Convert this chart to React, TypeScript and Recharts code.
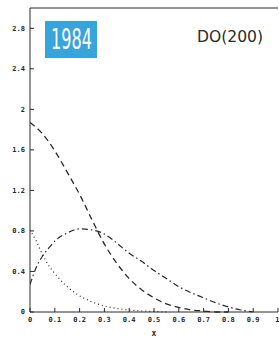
import { LineChart, Line, XAxis, YAxis } from "recharts";

// values
const dashX = [0, 0.05, 0.1, 0.15, 0.2, 0.25, 0.3, 0.35, 0.4, 0.45, 0.5, 0.55, 0.6, 0.65, 0.7, 0.75, 0.8];
const dashY = [1.87, 1.76, 1.59, 1.38, 1.16, 0.91, 0.67, 0.48, 0.33, 0.22, 0.14, 0.08, 0.045, 0.02, 0.01, 0.0, 0.0];

const dashDotX = [0, 0.025, 0.05, 0.075, 0.1, 0.15, 0.2, 0.25, 0.3, 0.35, 0.4, 0.45, 0.5, 0.55, 0.6, 0.65, 0.7, 0.75, 0.8, 0.85, 0.9];
const dashDotY = [0.27, 0.44, 0.55, 0.63, 0.7, 0.78, 0.82, 0.81, 0.77, 0.68, 0.58, 0.5, 0.41, 0.33, 0.25, 0.19, 0.14, 0.09, 0.05, 0.02, 0.0];

const dotX = [0, 0.025, 0.05, 0.075, 0.1, 0.15, 0.2, 0.25, 0.3, 0.35, 0.4, 0.45, 0.5, 0.55];
const dotY = [0.81, 0.7, 0.57, 0.46, 0.38, 0.25, 0.16, 0.1, 0.06, 0.035, 0.02, 0.01, 0.005, 0.0];

const xTicks = [0, 0.1, 0.2, 0.3, 0.4, 0.5, 0.6, 0.7, 0.8, 0.9, 1];
const yTicks = [0, 0.4, 0.8, 1.2, 1.6, 2, 2.4, 2.8];

const toRows = (xs: number[], ys: number[]) => xs.map((x, i) => ({ x, y: ys[i] }));

const ink = "#2a2a2a";
const tickFont = { fontSize: 7, fontFamily: "DejaVu Sans Mono", fontWeight: 700, fill: ink };

export default function App() {
  return (
    <div style={{ position: "absolute", left: 0, top: 0, width: 279, height: 337, background: "#fff" }}>
      <LineChart width={279} height={337} margin={{ top: 7, right: 0, left: 0, bottom: 0 }}>
        <XAxis
          xAxisId="b"
          dataKey="x"
          type="number"
          domain={[0, 1]}
          ticks={xTicks}
          allowDataOverflow
          height={25}
          stroke={ink}
          tickSize={-4}
          tickMargin={9}
          tick={tickFont}
          label={{ value: "x", position: "insideBottom", offset: 1, fontSize: 8, fontFamily: "DejaVu Sans Mono", fontWeight: 700, fill: ink }}
        />
        <XAxis
          xAxisId="t"
          orientation="top"
          dataKey="x"
          type="number"
          domain={[0, 1]}
          ticks={xTicks}
          height={1}
          stroke={ink}
          tickSize={-4}
          tickFormatter={() => ""}
        />
        <YAxis
          yAxisId="l"
          type="number"
          domain={[0, 3]}
          ticks={yTicks}
          width={30}
          stroke={ink}
          tickSize={-4}
          tickMargin={9}
          tick={tickFont}
          tickFormatter={(v: number) => String(v)}
        />
        <YAxis
          yAxisId="r"
          orientation="right"
          type="number"
          domain={[0, 3]}
          ticks={yTicks}
          width={1}
          axisLine={false}
          stroke={ink}
          tickSize={-3}
          tickFormatter={() => ""}
        />
        <Line
          xAxisId="b"
          yAxisId="l"
          data={toRows(dashX, dashY)}
          dataKey="y"
          type="monotone"
          stroke={ink}
          strokeWidth={1.3}
          strokeDasharray="6 4"
          dot={false}
          isAnimationActive={false}
        />
        <Line
          xAxisId="b"
          yAxisId="l"
          data={toRows(dashDotX, dashDotY)}
          dataKey="y"
          type="monotone"
          stroke={ink}
          strokeWidth={1.2}
          strokeDasharray="6 3 1.5 3"
          dot={false}
          isAnimationActive={false}
        />
        <Line
          xAxisId="b"
          yAxisId="l"
          data={toRows(dotX, dotY)}
          dataKey="y"
          type="monotone"
          stroke={ink}
          strokeWidth={1.2}
          strokeDasharray="1 3"
          dot={false}
          isAnimationActive={false}
        />
      </LineChart>
      <svg width={279} height={337} style={{ position: "absolute", left: 0, top: 0, pointerEvents: "none" }}>
        <rect x={45} y={21} width={52} height={37} fill="#37a4dc" />
        <text x={51} y={49} fill="#fff" fontSize={28} fontFamily="DejaVu Sans Condensed" textLength={41} lengthAdjust="spacingAndGlyphs">
          1984
        </text>
        <text x={197} y={42} fill={ink} fontSize={16} fontFamily="DejaVu Sans" textLength={66} lengthAdjust="spacingAndGlyphs">
          DO(200)
        </text>
      </svg>
    </div>
  );
}
